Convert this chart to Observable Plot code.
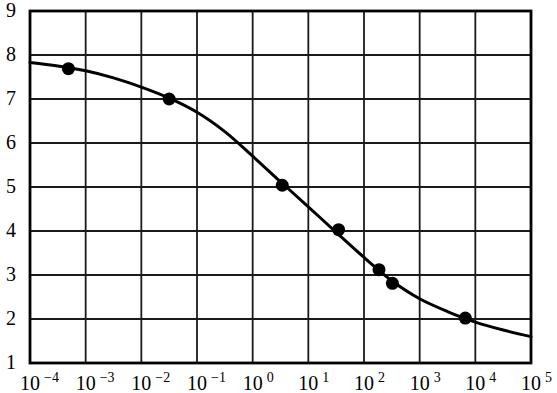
<!DOCTYPE html>
<html><head><meta charset="utf-8">
<script src="https://cdn.jsdelivr.net/npm/d3@7"></script>
<script src="https://cdn.jsdelivr.net/npm/@observablehq/plot@0.6"></script>
<style>
html,body{margin:0;padding:0;background:#fff;}
svg{display:block;}
svg text{font-family:"Liberation Serif","Times New Roman",serif;}
</style>
</head><body><div id="chart"></div>
<script>
// Measured points
const pointX = [4.9e-4, 0.0316, 3.4, 35, 186, 324, 6600];
const pointY = [7.69, 7.0, 5.04, 4.03, 3.12, 2.81, 2.02];

// Fitted curve (half-decade steps)
const curveX = [1e-4, 3.16e-4, 1e-3, 3.16e-3, 1e-2, 3.16e-2, 0.1, 0.316, 1, 3.16, 10, 31.6, 100, 316, 1000, 3160, 1e4, 3.16e4, 1e5];
const curveY = [7.83, 7.75, 7.64, 7.48, 7.27, 7.02, 6.70, 6.26, 5.70, 5.12, 4.55, 3.97, 3.40, 2.87, 2.46, 2.17, 1.93, 1.75, 1.60];

// Ticks
const xTicks = [1e-4, 1e-3, 1e-2, 1e-1, 1e0, 1e1, 1e2, 1e3, 1e4, 1e5];
const xTickBase = "10";
const xTickExp = ["\u22124", "\u22123", "\u22122", "\u22121", "0", "1", "2", "3", "4", "5"];
const yTicks = [1, 2, 3, 4, 5, 6, 7, 8, 9];

const points = pointX.map((x, i) => ({x, y: pointY[i]}));
const curve = curveX.map((x, i) => ({x, y: curveY[i]}));
const expOf = d => xTickExp[Math.round(Math.log10(d)) + 4];
const FONT = "Liberation Serif";

const chart = Plot.plot({
  width: 557,
  height: 393,
  marginLeft: 29.5,
  marginRight: 26.5,
  marginTop: 10.5,
  marginBottom: 30.5,
  style: {fontFamily: FONT, fontSize: "20px", background: "#fff", color: "#000"},
  x: {type: "log", domain: [1e-4, 1e5], label: null},
  y: {domain: [1, 9], label: null},
  marks: [
    Plot.gridX(xTicks, {stroke: "#1a1a1a", strokeOpacity: 1, strokeWidth: 1.8}),
    Plot.gridY(yTicks, {stroke: "#1a1a1a", strokeOpacity: 1, strokeWidth: 1.8}),
    Plot.axisX(xTicks, {tickSize: 0, tickPadding: 13, tickFormat: d => xTickBase + "^" + expOf(d), fontSize: 20, fontFamily: FONT, label: null}),
    Plot.axisY(yTicks, {tickSize: 0, tickPadding: 14, tickFormat: d => String(d), fontSize: 20, fontFamily: FONT, label: null}),
    Plot.line(curve, {x: "x", y: "y", curve: "catmull-rom", stroke: "#000", strokeWidth: 3}),
    Plot.dot(points, {x: "x", y: "y", r: 6.5, fill: "#000", stroke: "none"}),
    Plot.frame({stroke: "#000", strokeWidth: 2.8})
  ]
});

document.getElementById("chart").appendChild(chart);

// Render x tick labels as 10 with a raised exponent, "10" centred on the gridline
chart.querySelectorAll('g[aria-label="x-axis tick label"] text').forEach(t => {
  const s = t.textContent;
  const k = s.indexOf("^");
  if (k < 0) return;
  const base = s.slice(0, k), exp = s.slice(k + 1);
  t.textContent = "";
  t.setAttribute("text-anchor", "start");
  const ns = "http://www.w3.org/2000/svg";
  const b = document.createElementNS(ns, "tspan");
  b.setAttribute("dx", "-10");
  b.textContent = base;
  const e = document.createElementNS(ns, "tspan");
  e.setAttribute("dx", "4");
  e.setAttribute("dy", "-8");
  e.setAttribute("font-size", "14");
  e.textContent = exp;
  t.appendChild(b);
  t.appendChild(e);
});
</script>
</body></html>
